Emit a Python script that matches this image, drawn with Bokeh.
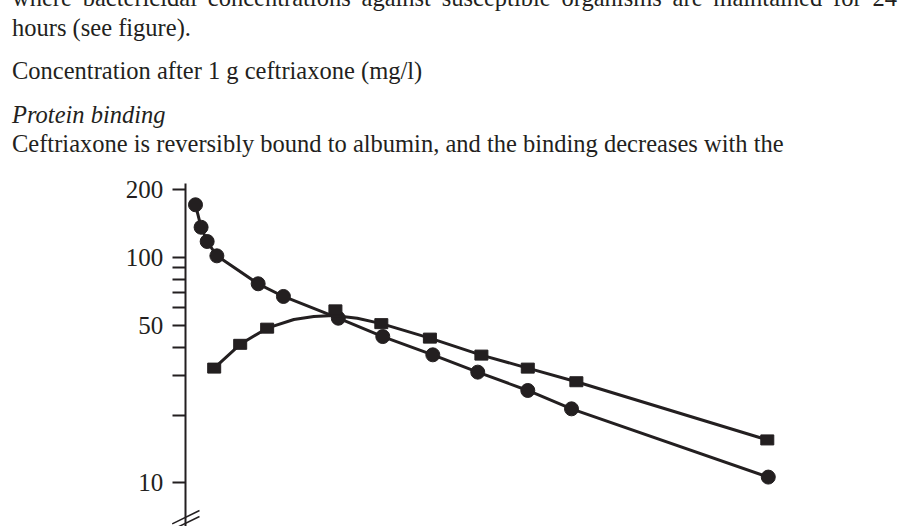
from bokeh.plotting import figure
from bokeh.layouts import column
from bokeh.models import Range1d, FixedTicker, PrintfTickFormatter, Arrow, Div
from bokeh.embed import file_html
from bokeh.resources import INLINE

# ---- data (time in hours, concentration in mg/l) ----
circle_hours = [0.42, 0.65, 0.90, 1.30, 3.0, 4.04, 6.3, 8.13, 10.19, 12.04, 14.1, 15.9, 24.0]
circle_conc = [171.6, 136.4, 117.9, 101.8, 76.5, 67.2, 53.8, 44.6, 37.0, 31.0, 25.7, 21.3, 10.6]

square_hours = [1.19, 2.26, 3.37, 6.18, 8.07, 10.07, 12.19, 14.1, 16.1, 23.96]
square_conc = [32.3, 41.2, 48.6, 58.6, 50.9, 43.9, 36.9, 32.3, 28.1, 15.5]

# drawn smooth curve through the square series
square_curve_hours = [1.19, 2.26, 3.37, 4.47, 5.29, 6.11, 7.08, 8.07, 10.07, 12.19, 14.1, 16.1, 23.96]
square_curve_conc = [32.3, 41.2, 48.6, 53.1, 54.8, 55.3, 53.8, 50.9, 43.9, 36.9, 32.3, 28.1, 15.5]

major_ticks = [10, 50, 100, 200]
minor_ticks = [20, 30, 40, 60, 70, 80, 90]

text_lines = [
    "where bactericidal concentrations against susceptible organisms are maintained for 24",
    "hours (see figure).",
    "Concentration after 1 g ceftriaxone (mg/l)",
    "Protein binding",
    "Ceftriaxone is reversibly bound to albumin, and the binding decreases with the",
]
text_italic = [False, False, False, True, False]
text_justified = [True, False, False, False, False]

INK = "#231f20"
FONT = "Liberation Serif"
W = 900
TEXT_H = 175
CHART_H = 526 - TEXT_H
FS = 24.5

# ---------------- page text above the chart ----------------
baselines = [6.7, 36, 79, 123.3, 152.7]
parts = []
for s, it, just, yb in zip(text_lines, text_italic, text_justified, baselines):
    top = yb - 0.8375 * FS
    style = (f"position:absolute;left:12px;top:{top:.1f}px;white-space:nowrap;"
             f"line-height:{FS}px;font-size:{FS}px;font-family:'{FONT}';color:{INK};")
    if it:
        style += "font-style:italic;"
    if just:
        style += "width:885px;text-align:justify;text-align-last:justify;white-space:normal;"
    parts.append(f'<div style="{style}">{s}</div>')
html = (f'<div style="position:relative;width:{W}px;height:{TEXT_H}px;overflow:hidden;">'
        + "".join(parts) + "</div>")
t = Div(text=html, width=W, height=TEXT_H, margin=0)

# ---------------- chart ----------------
LEFT = 100
p = figure(width=W, height=CHART_H, y_axis_type="log",
           x_range=Range1d(-3.491, 29.444), y_range=Range1d(6.396, 231.5),
           x_axis_location=None, output_backend="svg", toolbar_location=None,
           min_border_left=LEFT, min_border_top=0, min_border_right=0, min_border_bottom=0)
p.outline_line_color = None
p.xgrid.visible = False
p.ygrid.visible = False

ax = p.yaxis[0]
ax.fixed_location = 0
ax.bounds = (6.396, 213.3)
ax.ticker = FixedTicker(ticks=major_ticks, minor_ticks=minor_ticks)
ax.formatter = PrintfTickFormatter(format="%d")
ax.axis_line_color = INK
ax.axis_line_width = 2
ax.major_tick_line_color = INK
ax.minor_tick_line_color = INK
ax.major_tick_line_width = 2
ax.minor_tick_line_width = 2
ax.major_tick_out = 13
ax.major_tick_in = 0
ax.minor_tick_out = 13
ax.minor_tick_in = 0
ax.major_label_standoff = 9
ax.major_label_text_font = FONT
ax.major_label_text_font_size = "25px"
ax.major_label_text_color = INK

# series
p.line(circle_hours, circle_conc, line_width=3, line_color=INK)
p.scatter(circle_hours, circle_conc, marker="circle", size=14, fill_color=INK, line_color=INK)
p.line(square_curve_hours, square_curve_conc, line_width=3, line_color=INK)
p.rect(square_hours, square_conc, width=13, height=10, width_units="screen", height_units="screen",
       fill_color=INK, line_color=INK)

# axis break marks (screen units from the frame's lower-left corner)
for dy in (0, 6):
    p.add_layout(Arrow(end=None, x_start=71.7, y_start=2.7 - dy, x_end=99, y_end=16 - dy,
                       start_units="screen", end_units="screen", line_color=INK, line_width=1.5))

layout = column(t, p, spacing=0)
open("out.html", "w").write(file_html(layout, INLINE))
